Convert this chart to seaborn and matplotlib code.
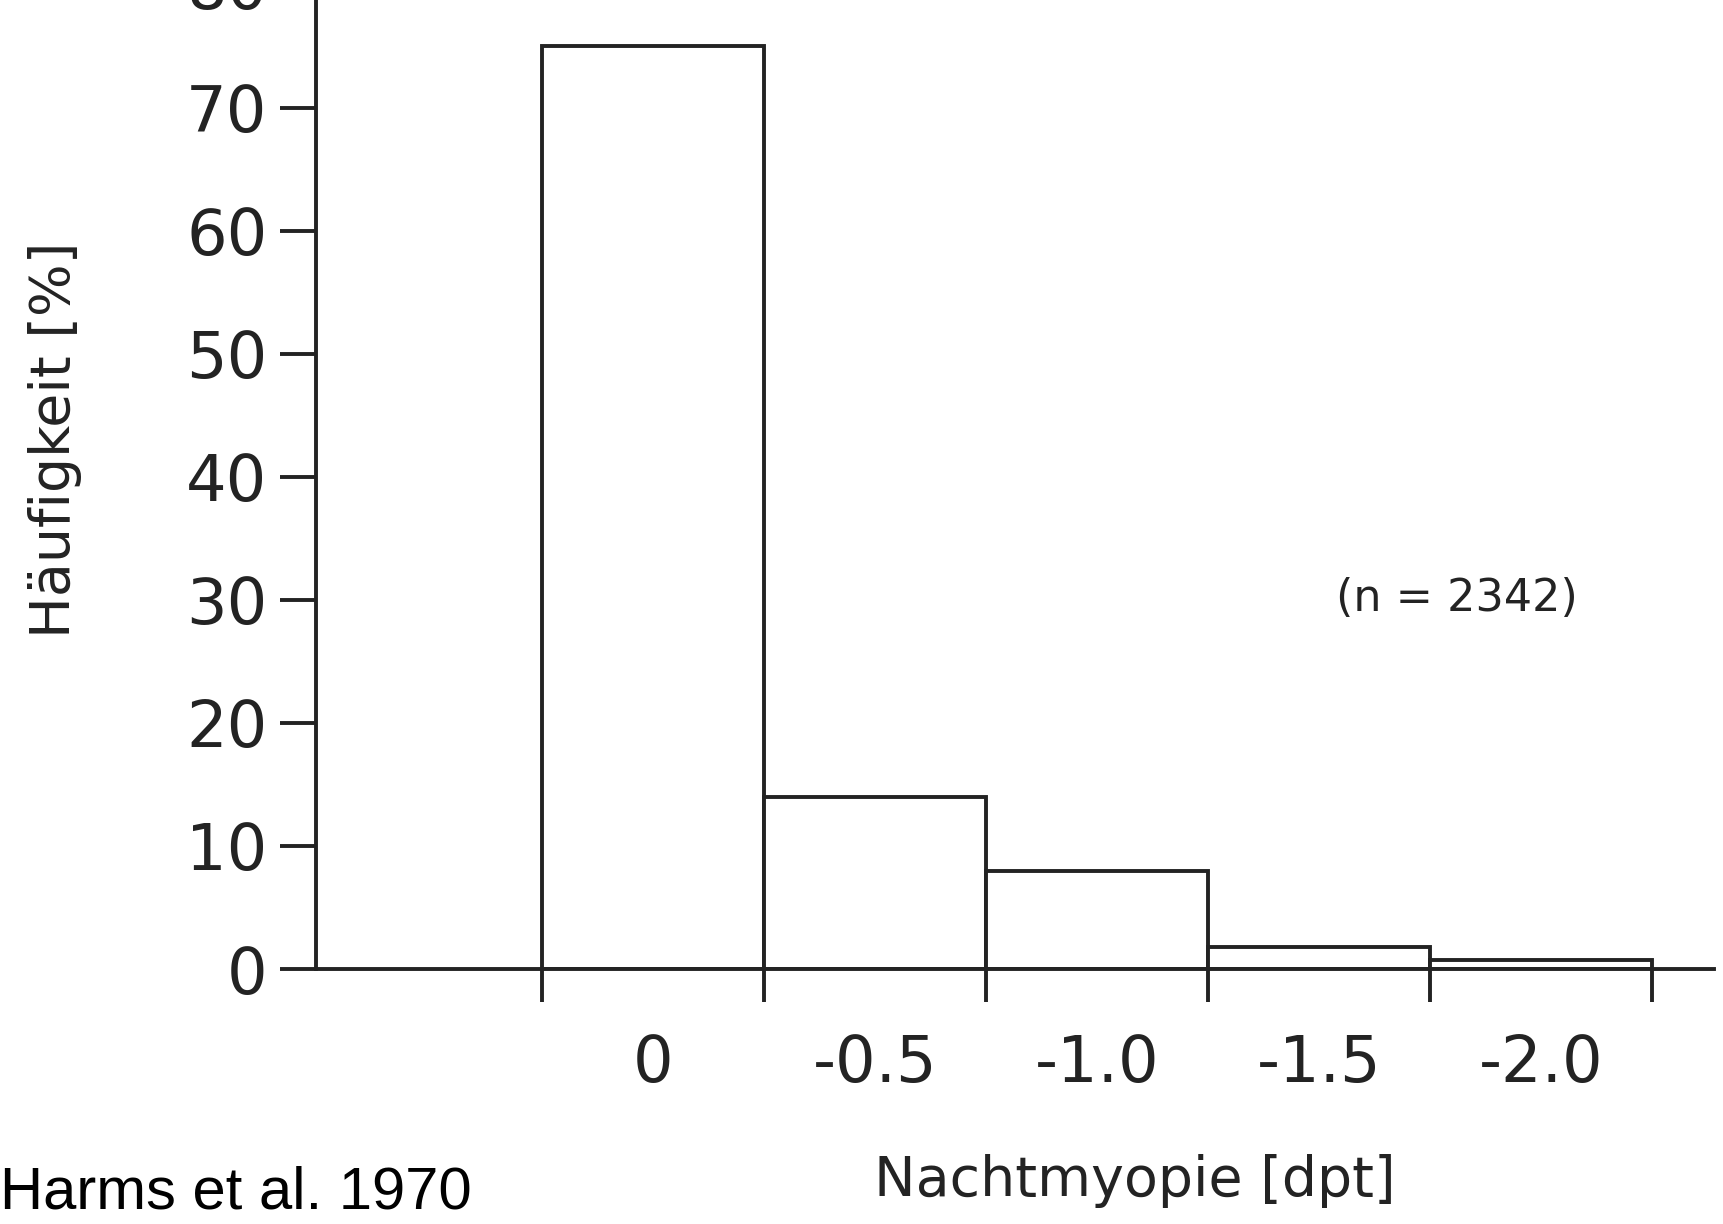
import matplotlib
matplotlib.use("Agg")
import matplotlib.pyplot as plt
import seaborn as sns
import numpy as np

categories = ["0", "-0.5", "-1.0", "-1.5", "-2.0"]
values = [75.0, 14.0, 8.0, 1.8, 0.7]
yticks = [0, 10, 20, 30, 40, 50, 60, 70, 80]

sns.set_style("white")
plt.rcParams['font.family'] = ['DejaVu Sans']

INK = '#232323'
fig = plt.figure(figsize=(17.23, 12.24), dpi=100)
ax = fig.add_axes([0.1834, 0.2083, 0.8114, 0.8244])

sns.barplot(x=categories, y=values, order=categories, width=1.0, color='white',
            edgecolor=INK, linewidth=2.8, ax=ax, saturation=1)
for p in ax.patches:
    p.set_facecolor('white')
    p.set_edgecolor(INK)

ax.set_xlim(-1.52, 4.78)
ax.set_ylim(0, 82)

for s in ['top', 'right']:
    ax.spines[s].set_visible(False)
for s in ['left', 'bottom']:
    ax.spines[s].set_color(INK)
    ax.spines[s].set_linewidth(2.8)

# y ticks
ax.set_yticks(yticks)
ax.set_yticklabels([str(v) for v in yticks])
ax.tick_params(axis='y', which='major', direction='out', length=26, width=2.8,
               color=INK, labelsize=46, labelcolor=INK, pad=9, left=True)

# x ticks: marks at bar edges, labels at bar centres
n = len(categories)
ax.set_xticks([i - 0.5 for i in range(n + 1)])
ax.set_xticklabels([''] * (n + 1))
ax.set_xticks(list(range(n)), minor=True)
ax.set_xticklabels(categories, minor=True)
ax.tick_params(axis='x', which='major', direction='out', length=24, width=2.8,
               color=INK, bottom=True)
ax.tick_params(axis='x', which='minor', length=0, labelsize=46, labelcolor=INK,
               pad=46, bottom=True)

ax.set_xlabel("Nachtmyopie [dpt]", fontsize=40, color=INK)
ax.xaxis.set_label_coords(0.586, -0.21)
ax.xaxis.label.set_va('center')
ax.set_ylabel("Häufigkeit [%]", fontsize=40, color=INK)
ax.yaxis.set_label_coords(-0.187, 0.524)
ax.yaxis.label.set_va('center')

ax.text(3.62, 30.1, "(n = 2342)", ha='center', va='center', fontsize=32, color=INK)

fig.text(0.0, 0.003, "Harms et al. 1970", ha='left', va='bottom',
         fontsize=43, family=['Liberation Sans', 'DejaVu Sans'], color='black')

fig.savefig("out.png", dpi=100)
